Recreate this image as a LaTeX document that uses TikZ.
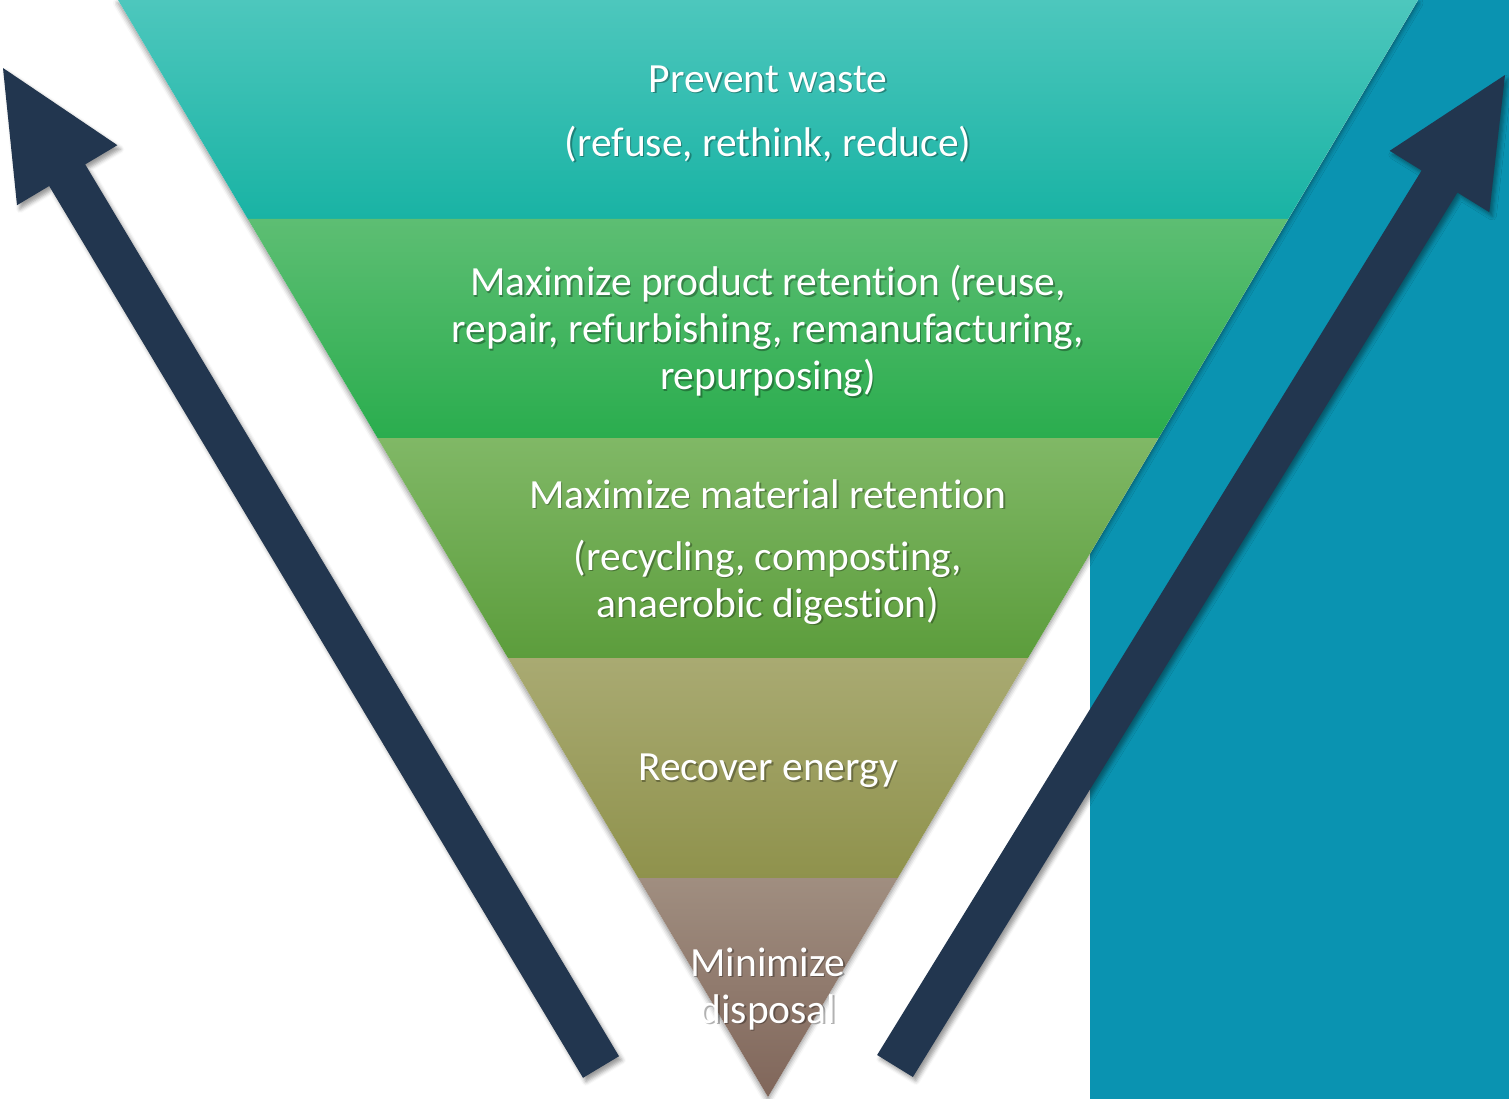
\documentclass[tikz,border=0pt]{standalone}
\usepackage{fontspec}
\setmainfont{Carlito}[Ligatures=NoCommon]
\usetikzlibrary{shadows.blur,calc}
\definecolor{rightbg}{HTML}{0A93B1}
\definecolor{arrowc}{HTML}{22364F}
\definecolor{aT}{HTML}{4DC7BD}\definecolor{aB}{HTML}{19B3A4}
\definecolor{bT}{HTML}{5DBE73}\definecolor{bB}{HTML}{2AAD4E}
\definecolor{cT}{HTML}{80B866}\definecolor{cB}{HTML}{5C9D3C}
\definecolor{dT}{HTML}{A9AA72}\definecolor{dB}{HTML}{8F924C}
\definecolor{eT}{HTML}{A08E80}\definecolor{eB}{HTML}{80665A}
\tikzset{
  bigarrow/.style={fill=arrowc, blur shadow={shadow xshift=3pt, shadow yshift=-4pt, shadow blur radius=4pt, shadow opacity=40}},
  lbl/.style={text=white, align=center, inner sep=0pt, font=\fontsize{41.5}{47}\selectfont},
  lblsh/.style={lbl, text=black, text opacity=0.3},
}
\newcommand{\shlabel}[3]{%
  \node[lblsh] (#1sh) at ($(#2)+(1.5,1.5)$) {#3};
  \node[lbl] (#1) at (#2) {#3};}
\begin{document}
\begin{tikzpicture}[x=1pt,y=-1pt]
\useasboundingbox (0,0) rectangle (1509,1099);
\fill[rightbg] (1090,0) rectangle (1509,1099);
% triangle with shadow
\fill[white, blur shadow={shadow xshift=0pt, shadow yshift=-3pt, shadow blur radius=5pt, shadow opacity=45}] (118,0) -- (1418,0) -- (768,1097) -- cycle;
\shade[top color=aT, bottom color=aB] (118,0) -- (1418,0) -- (1288.2,219) -- (247.8,219) -- cycle;
\shade[top color=bT, bottom color=bB] (247.8,219) -- (1288.2,219) -- (1158.5,438) -- (377.5,438) -- cycle;
\shade[top color=cT, bottom color=cB] (377.5,438) -- (1158.5,438) -- (1028.1,658) -- (507.9,658) -- cycle;
\shade[top color=dT, bottom color=dB] (507.9,658) -- (1028.1,658) -- (897.8,878) -- (638.2,878) -- cycle;
\shade[top color=eT, bottom color=eB] (638.2,878) -- (897.8,878) -- (768,1097) -- cycle;
% arrows
\fill[bigarrow] (3,68) -- (117.4,145.2) -- (85.2,164.4) -- (619.0,1056.2) -- (583.0,1077.8) -- (49.2,186.0) -- (17.0,205.2) -- cycle;
\fill[bigarrow] (1505,75) -- (1489.3,212.2) -- (1457.4,192.5) -- (912.9,1077) -- (877.1,1055) -- (1421.6,170.5) -- (1389.7,150.8) -- cycle;
% labels
\coordinate (p1) at (768,79);
\coordinate (p2) at (768,144);
\coordinate (p3) at (768,331);
\coordinate (p4) at (768,494);
\coordinate (p5) at (768,582);
\coordinate (p6) at (768,771);
\coordinate (p7) at (768,989);
\shlabel{t1}{p1}{Prevent waste}
\shlabel{t2}{p2}{(refuse, rethink, reduce)}
\shlabel{t3}{p3}{Maximize product retention (reuse,\\repair, refurbishing, remanufacturing,\\repurposing)}
\shlabel{t4}{p4}{Maximize material retention}
\shlabel{t5}{p5}{(recycling, composting,\\anaerobic digestion)}
\shlabel{t6}{p6}{Recover energy}
\shlabel{t7}{p7}{Minimize\\disposal}
\end{tikzpicture}
\end{document}
